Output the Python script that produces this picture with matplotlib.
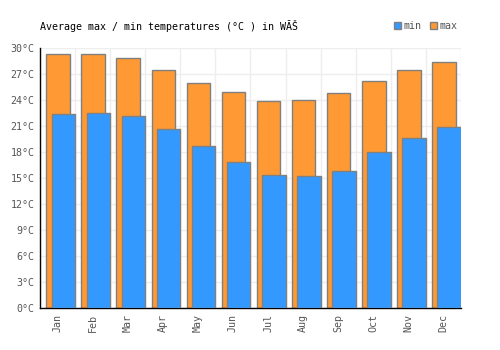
import matplotlib
matplotlib.use("Agg")
import matplotlib.pyplot as plt
from matplotlib.patches import Patch
import numpy as np

months = ["Jan", "Feb", "Mar", "Apr", "May", "Jun", "Jul", "Aug", "Sep", "Oct", "Nov", "Dec"]
max_temp = [29.3, 29.3, 28.8, 27.5, 25.9, 24.9, 23.85, 23.95, 24.8, 26.15, 27.45, 28.4]
min_temp = [22.35, 22.5, 22.1, 20.6, 18.7, 16.8, 15.35, 15.2, 15.8, 17.95, 19.6, 20.85]
yticks = list(range(0, 31, 3))

plt.rcParams['font.family'] = ['DejaVu Sans Mono']
fig = plt.figure(figsize=(5, 3.5), dpi=100)
ax = fig.add_axes([0.08, 0.12, 0.842, 0.743])

x = np.arange(len(months))
blue = "#3399ff"
orange = "#ff9933"
edge = "#808080"
ax.bar(x + 0.18, max_temp, width=0.67, align='edge', color=orange, edgecolor=edge, linewidth=1, zorder=2)
ax.bar(x + 0.33, min_temp, width=0.67, align='edge', color=blue, edgecolor=edge, linewidth=1, zorder=3)

ax.set_xlim(0, 12)
ax.set_ylim(0, 30)
ax.set_yticks(yticks)
ax.set_yticklabels([f"{t}°C" for t in yticks])
ax.set_xticks(x + 0.5)
ax.set_xticklabels(months, rotation=90)
ax.set_xticks(np.arange(0, 13), minor=True)
ax.grid(False)
ax.grid(True, which='minor', axis='x', color='#eeeeee', linewidth=1, zorder=0)
ax.grid(True, which='major', axis='y', color='#eeeeee', linewidth=1, zorder=0)
ax.tick_params(axis='both', which='both', length=0, labelsize=7.2, colors='#555555', pad=4)
for s in ['top', 'right']:
    ax.spines[s].set_visible(False)
for s in ['left', 'bottom']:
    ax.spines[s].set_color('black')
    ax.spines[s].set_linewidth(1)
ax.set_axisbelow(True)

fig.text(0.08, 0.925, "Average max / min temperatures (°C ) in WĂŠ", fontsize=7.2, color='black', va='center', ha='left')

handles = [Patch(facecolor=blue, edgecolor=edge, label='min'), Patch(facecolor=orange, edgecolor=edge, label='max')]
leg = fig.legend(handles=handles, loc='center right', bbox_to_anchor=(0.925, 0.925), ncol=2, frameon=False,
                 fontsize=7.2, handlelength=0.7, handleheight=0.7, handletextpad=0.3, columnspacing=0.8, borderpad=0)
for t in leg.get_texts():
    t.set_color('#555555')

fig.savefig("out.png", dpi=100)
